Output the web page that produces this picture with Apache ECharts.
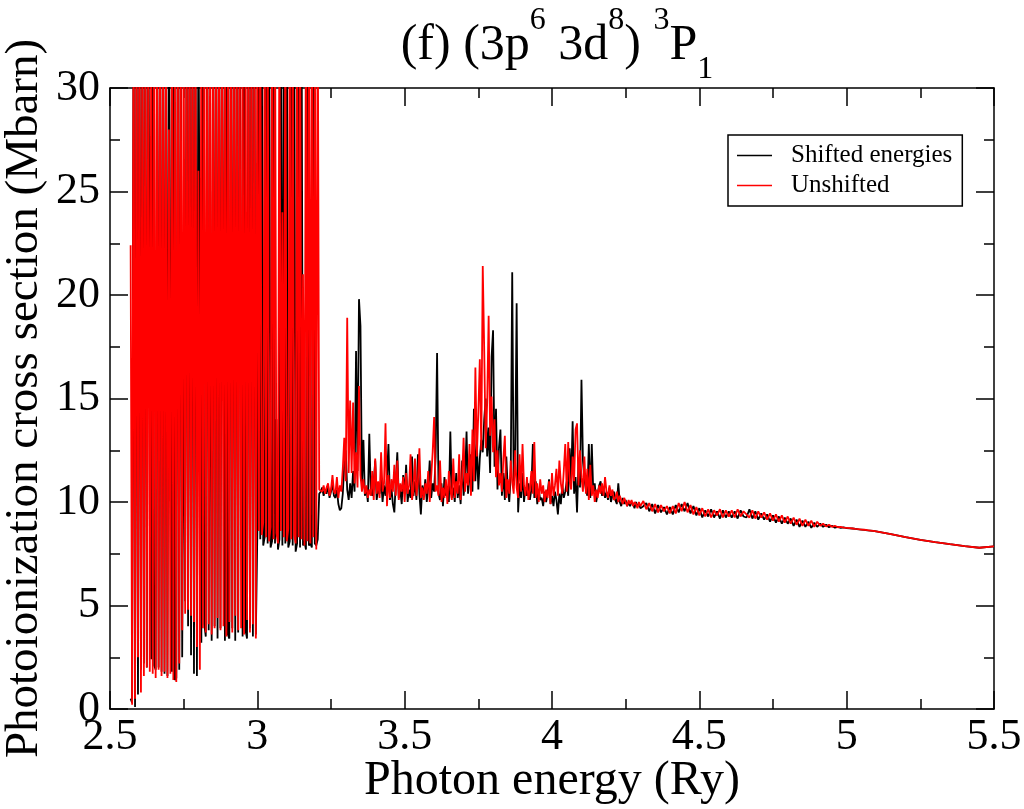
<!DOCTYPE html>
<html>
<head>
<meta charset="utf-8">
<script src="https://cdn.jsdelivr.net/npm/echarts@6/dist/echarts.min.js"></script>
<style>html,body{margin:0;padding:0;background:#fff}#c{width:1024px;height:809px}</style>
</head>
<body>
<div id="c"></div>
<script>
// Energy grid segments (Ry): start and step for each block of values
const segStart = [2.57, 3.005, 3.215, 4.31, 5.15];
const segStep  = [0.005, 0.005, 0.005, 0.01, 0.05];

// Shifted energies (black), Mbarn
const shiftedA = [0.5,0.3,35,0.1,35,0.7,35,1.9,35,2.2,
 35,2.0,35,35,2.4,35,2.1,1.9,35,2.0,
 35,1.8,35,1.7,35,1.6,35,35,1.8,35,
 1.4,1.5,35,1.9,35,2.5,18,5.2,35,4.0,
 35,2.6,35,1.7,35,1.6,35,35,3.2,35,
 4.1,3.5,35,3.8,25,3.3,35,4.0,35,3.4,
 35,3.9,35,35,3.3,35,3.6,3.4,35,3.9,
 35,3.3,35,3.7,35,35,3.5,35,3.8,3.4,
 35,3.9,35,3.5,35,3.6,8.5];
const shiftedB = [35,8.2,35,7.9,8.3,35,8.0,35,7.8,8.1,
 35,8.0,14,7.7,8.2,35,7.9,35,8.0,35,
 7.8,8.1,35,7.9,35,7.6,8.0,35,7.8,35,
 7.9,8.1,7.7,35,7.9,8.0,7.8,35,8.0,7.9,
 8.2,10.4];
const shiftedC = [10.5,10.7,10.3,10.6,10.4,10.8,10.2,10.5,10.9,10.3,
 10.2,10.6,9.9,9.6,9.7,10.4,11.8,12.5,10.6,10.1,
 10.9,10.2,11.5,10.5,17.3,11.5,19.8,18.5,10.8,13.0,
 10.3,10.7,10.0,13.3,10.5,10.3,10.9,12.0,10.1,10.6,
 10.4,11.1,10.0,10.8,10.3,11.2,12.8,10.1,10.7,9.9,
 9.5,11.0,12.4,10.2,10.6,9.9,11.3,10.4,11.8,10.0,
 10.6,10.2,12.2,10.3,11.0,10.1,12.3,10.4,9.4,10.8,
 10.3,11.1,10.0,10.7,12.0,10.2,10.9,10.5,12.2,17.2,
 10.4,10.1,10.9,9.8,11.2,10.3,10.6,10.0,13.4,10.2,
 10.7,10.0,11.4,10.2,10.8,9.9,12.0,10.3,11.1,13.4,
 10.4,11.2,12.3,10.5,14.5,11.0,12.8,10.6,12.1,13.0,
 12.4,14.0,15.0,12.2,13.6,11.4,17.0,18.3,11.7,14.5,
 10.6,12.6,13.5,10.3,11.4,10.1,12.2,10.6,10.0,11.3,
 21.1,10.8,12.0,19.6,9.5,10.9,10.2,11.4,10.0,10.7,
 10.3,10.9,10.1,10.6,12.8,10.2,11.0,9.9,10.6,10.1,
 10.2,9.8,10.5,10.0,10.4,11.1,9.9,10.3,9.8,10.5,
 10.1,9.4,10.4,9.9,10.8,10.2,10.5,11.0,10.3,12.6,
 10.9,13.9,10.4,11.2,9.5,12.0,10.7,15.9,12.0,11.1,
 10.6,10.3,12.8,10.2,12.8,10.5,10.9,10.0,10.4,10.8,
 11.0,10.3,10.6,10.2,10.5,10.1,10.7,10.0,10.3,10.5,
 10.1,9.9,10.9,10.0,9.8,10.2,9.9,10.1,9.8,10.0,
 9.8,10.0,9.9,9.7,10.0,9.8,9.9,9.7];
const shiftedD = [9.8,9.95,9.55,9.9,9.45,9.85,9.5,9.75,9.4,9.75,
 9.4,9.85,9.5,9.9,9.55,9.95,9.45,9.8,9.35,9.7,
 9.25,9.6,9.3,9.65,9.25,9.55,9.2,9.6,9.25,9.55,
 9.25,9.55,9.2,9.6,9.3,9.25,9.65,9.2,9.55,9.15,
 9.45,9.15,9.4,9.05,9.35,9.0,9.3,8.95,9.25,8.95,
 9.2,8.85,9.15,8.8,9.1,8.8,9.05,8.75,9.0,8.8,
 8.95,8.8,8.9,8.78,8.85,8.76,8.8,8.75,8.77,8.74,
 8.73,8.72,8.7,8.68,8.67,8.65,8.63,8.62,8.6,8.58];
const shiftedE = [8.45,8.3,8.17,8.06,7.96,7.87,7.79,7.86];

// Unshifted (red), Mbarn
const unshiftedA = [22.4,0.2,35,0.5,35,2.5,35,0.8,35,1.6,
 35,2.0,35,1.8,35,1.7,35,1.5,35,1.9,
 35,1.6,35,1.8,35,1.5,28,1.7,35,1.4,
 35,1.3,35,2.2,35,3.8,35,4.6,35,4.8,
 35,4.5,35,4.2,35,3.0,26,1.9,35,3.9,
 35,3.7,35,4.1,35,3.6,35,3.9,35,4.4,
 35,3.8,35,4.0,35,3.5,35,4.2,35,3.7,
 35,4.5,35,3.8,35,3.9,35,3.6,35,4.3,
 35,3.7,35,4.1,35,3.4,35];
const unshiftedB = [8.6,35,8.4,9.0,35,8.3,35,8.1,8.8,35,
 8.2,35,8.5,8.0,35,8.6,24,8.3,35,8.1,
 8.7,35,8.2,35,8.4,8.0,35,8.3,35,8.2,
 21,7.9,35,8.1,35,8.0,35,8.3,35,7.7,
 35,10.6];
const unshiftedC = [10.6,10.5,10.8,10.4,10.7,10.9,10.3,10.6,11.3,10.5,
 10.4,11.2,10.2,10.8,10.5,11.6,13.1,11.0,18.9,11.4,
 14.9,11.4,14.8,10.9,12.4,10.7,15.6,11.3,10.5,11.1,
 10.4,10.8,10.2,10.6,10.3,11.5,10.1,12.1,10.4,11.0,
 10.2,12.4,10.5,10.9,13.8,9.8,11.3,10.2,11.1,10.5,
 11.8,10.3,12.0,10.1,10.9,10.5,11.2,10.0,11.4,10.4,
 10.8,12.3,10.1,10.6,12.1,10.3,11.0,12.6,10.2,10.7,
 10.1,10.9,10.4,11.5,10.0,11.2,12.4,14.1,10.5,10.8,
 10.3,12.0,10.0,10.7,10.2,11.1,9.9,11.5,10.6,10.1,
 12.1,10.2,11.0,10.4,12.3,10.1,11.2,13.1,10.5,11.4,
 10.8,12.8,10.3,13.5,11.0,16.5,12.2,14.3,16.9,12.5,
 21.4,17.3,12.6,14.8,19.0,13.2,15.1,12.4,14.0,11.2,
 12.5,10.8,11.4,10.5,12.1,13.2,10.2,11.1,10.4,12.0,
 11.0,10.4,12.5,10.7,10.2,12.3,10.5,12.8,10.8,10.3,
 11.2,10.1,10.6,11.5,10.4,12.9,10.2,10.9,10.0,11.1,
 10.4,10.8,10.0,10.6,10.2,11.0,9.9,11.4,10.3,10.8,
 11.6,10.3,12.0,10.9,10.4,11.5,12.8,10.5,12.9,11.0,
 10.6,12.2,11.0,13.5,13.8,10.8,12.5,11.2,10.5,12.2,
 10.4,11.6,10.1,11.8,10.3,10.8,10.0,10.6,10.2,10.8,
 10.4,10.9,10.3,11.2,10.5,10.2,10.8,10.3,10.6,10.1,
 10.2,10.5,10.0,10.3,10.1,9.9,10.2,10.0,9.8,10.1,
 9.9,10.1,9.8,10.0,9.9,9.7,10.0,9.8];
const unshiftedD = [10.05,9.65,9.95,9.55,9.9,9.5,9.85,9.55,9.8,9.45,
 9.8,9.45,9.95,9.55,10.0,9.5,9.85,9.4,9.75,9.35,
 9.7,9.3,9.65,9.25,9.6,9.35,9.65,9.25,9.6,9.3,
 9.6,9.25,9.65,9.3,9.55,9.4,9.25,9.6,9.2,9.55,
 9.25,9.5,9.15,9.45,9.1,9.4,9.05,9.35,9.0,9.3,
 8.95,9.25,8.9,9.2,8.85,9.15,8.85,9.1,8.8,9.05,
 8.85,8.95,8.82,8.9,8.8,8.85,8.78,8.8,8.76,8.75,
 8.74,8.72,8.7,8.69,8.67,8.66,8.64,8.62,8.6,8.58];
const unshiftedE = [8.45,8.3,8.17,8.06,7.96,7.87,7.79,7.86];

const xTicks = {min: 2.5, max: 5.5, interval: 0.5};
const yTicks = {min: 0, max: 30, interval: 5};

function build(blocks) {
  const out = [];
  blocks.forEach((arr, k) => arr.forEach((v, i) => {
    out.push([+(segStart[k] + i * segStep[k]).toFixed(4), v]);
  }));
  return out;
}
const shifted = build([shiftedA, shiftedB, shiftedC, shiftedD, shiftedE]);
const unshifted = build([unshiftedA, unshiftedB, unshiftedC, unshiftedD, unshiftedE]);

const FONT = 'Liberation Serif';
const axisLine = {show: true, onZero: false, lineStyle: {color: '#000', width: 1.5}};
const tick = {show: true, inside: true, length: 18, lineStyle: {color: '#000', width: 1.5}};
const minor = {show: true, splitNumber: 2, length: 10, lineStyle: {color: '#000', width: 1.5}};

const chart = echarts.init(document.getElementById('c'), null, {renderer: 'canvas'});
chart.setOption({
  animation: false,
  backgroundColor: '#fff',
  title: {
    text: '{a|(f) (3p}{s|6}{a| 3d}{s|8}{a|) }{s|3}{a|P}{b|1}',
    left: 552, top: 14, textAlign: 'center',
    textStyle: {
      fontFamily: FONT, fontWeight: 'normal', color: '#000',
      rich: {
        a: {fontFamily: FONT, fontWeight: 'normal', fontSize: 50, lineHeight: 54, color: '#000'},
        s: {fontFamily: FONT, fontWeight: 'normal', fontSize: 32, lineHeight: 34, padding: [0,0,50,0], color: '#000'},
        b: {fontFamily: FONT, fontWeight: 'normal', fontSize: 32, lineHeight: 34, padding: [48,0,0,0], color: '#000'}
      }
    }
  },
  legend: {
    data: ['Shifted energies', 'Unshifted'],
    orient: 'vertical', left: 728, top: 135,
    icon: 'rect', itemWidth: 35, itemHeight: 1.5, itemGap: 5,
    padding: [8, 10, 8, 9],
    borderColor: '#000', borderWidth: 1.5, backgroundColor: '#fff',
    textStyle: {fontFamily: FONT, fontSize: 25, color: '#000', padding: [0,0,0,14]}
  },
  grid: {left: 110, right: 30, top: 88, bottom: 100, outerBoundsMode: 'none', containLabel: false},
  xAxis: [{
    type: 'value', min: xTicks.min, max: xTicks.max, interval: xTicks.interval,
    position: 'bottom',
    axisLine: axisLine, axisTick: tick, minorTick: minor,
    splitLine: {show: false},
    axisLabel: {fontFamily: FONT, fontSize: 44, color: '#000', margin: 6},
    name: 'Photon energy (Ry)', nameLocation: 'middle', nameGap: 48, nameMoveOverlap: false,
    nameTextStyle: {fontFamily: FONT, fontSize: 48, color: '#000'}
  }, {
    type: 'value', min: xTicks.min, max: xTicks.max, interval: xTicks.interval,
    position: 'top',
    axisLine: axisLine, axisTick: tick, minorTick: minor,
    splitLine: {show: false}, axisLabel: {show: false}
  }],
  yAxis: [{
    type: 'value', min: yTicks.min, max: yTicks.max, interval: yTicks.interval,
    position: 'left',
    axisLine: axisLine, axisTick: tick, minorTick: minor,
    splitLine: {show: false},
    axisLabel: {fontFamily: FONT, fontSize: 44, color: '#000', margin: 10},
    name: 'Photoionization cross section (Mbarn)', nameLocation: 'middle', nameGap: 62,
    nameMoveOverlap: false, nameRotate: 90,
    nameTextStyle: {fontFamily: FONT, fontSize: 47, color: '#000'}
  }, {
    type: 'value', min: yTicks.min, max: yTicks.max, interval: yTicks.interval,
    position: 'right',
    axisLine: axisLine, axisTick: tick, minorTick: minor,
    splitLine: {show: false}, axisLabel: {show: false}
  }],
  series: [{
    name: 'Shifted energies', type: 'line', data: shifted,
    xAxisIndex: 0, yAxisIndex: 0,
    showSymbol: false, symbol: 'none', clip: true, sampling: null,
    color: '#000', lineStyle: {color: '#000', width: 1.8}, z: 2
  }, {
    name: 'Unshifted', type: 'line', data: unshifted,
    xAxisIndex: 0, yAxisIndex: 0,
    showSymbol: false, symbol: 'none', clip: true, sampling: null,
    color: '#ff0000', lineStyle: {color: '#ff0000', width: 1.8}, z: 3
  }]
});
</script>
</body>
</html>
